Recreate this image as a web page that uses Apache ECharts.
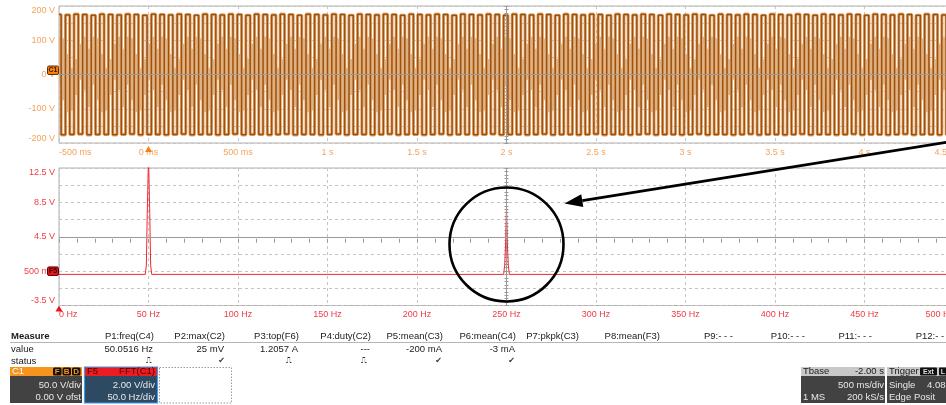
<!DOCTYPE html>
<html><head><meta charset="utf-8">
<script src="https://cdn.jsdelivr.net/npm/echarts@6/dist/echarts.min.js"></script>
<style>html,body{margin:0;padding:0;background:#fff;overflow:hidden}#c{width:946px;height:405px}</style>
</head><body><div id="c"></div>
<script>
// ---------------- data ----------------
// top panel (C1, 50 V/div, 500 ms/div)
const timeRangeS = [-0.5, 4.5];
const voltRangeV = [-200, 200];
const traceStepS = 0.024;                     // spacing of displayed trace strokes
const traceLevelsV = [175, -176, 174, -175, 176, -174, 175, -176, 173, -175, 176, -175];
// lighter (persistence) fill between strokes: upper / lower extent per gap
const tanHiV = [110, 105, 60, 20, 45, 90, 110, 75];
const tanLoV = [-30, -75, -110, -105, -60, -15, -45, -95];
// bottom panel (F5 = FFT(C1), 2 V/div, 50 Hz/div)
const freqRangeHz = [0, 500];
const fftRangeV = [-3.5, 12.5];
const fftFreqHz = [0, 48.2, 48.8, 49.3, 50, 50.7, 51.2, 51.8, 99.4, 100, 100.6, 199.4, 200, 200.6,
  248.4, 249.0, 249.5, 250, 250.5, 251.0, 251.6, 349.4, 350, 350.6, 449.4, 450, 450.6, 500];
const fftVolts = [0.12, 0.12, 1.2, 7.2, 14, 7.2, 1.2, 0.12, 0.12, 0.3, 0.12, 0.12, 0.3, 0.12,
  0.12, 1.2, 3.7, 8.0, 3.7, 1.2, 0.12, 0.12, 0.25, 0.12, 0.12, 0.25, 0.12, 0.12];
// measurement table
const measHeaders = ['P1:freq(C4)','P2:max(C2)','P3:top(F6)','P4:duty(C2)','P5:mean(C3)','P6:mean(C4)','P7:pkpk(C3)','P8:mean(F3)','P9:- - -','P10:- - -','P11:- - -','P12:- - -'];
const measValues = ['50.0516 Hz','25 mV','1.2057 A','---','-200 mA','-3 mA','','','','','',''];
const measStatus = ['pulse','ok','pulse','pulse','ok','ok','','','','','',''];

// ---------------- build ----------------
const FONT = '"Liberation Sans", Arial, sans-serif';
const dark = [], tanHi = [], tanLo = [];
for (let i = 0; ; i++) {
  const t = timeRangeS[0] + i * traceStepS;
  if (t > timeRangeS[1] + 1e-9) break;
  dark.push([t, traceLevelsV[i % traceLevelsV.length]]);
  tanHi.push([t, tanHiV[i % tanHiV.length]]);
  tanLo.push([t, tanLoV[i % tanLoV.length]]);
}
const fftData = fftFreqHz.map((f, i) => [f, fftVolts[i]]);

const chart = echarts.init(document.getElementById('c'), null, {renderer: 'canvas'});
const gridL = 59, gridW = 895;
const splitCol = '#c4c4c4', frameCol = '#b0b0b0', centerCol = '#9a9a9a';
const topCol = '#f4a35c', botCol = '#f03c46';

function fmtTime(v) {
  if (Math.abs(v) < 1) return Math.round(v * 1000) + ' ms';
  return (+v.toFixed(2)) + ' s';
}
function fmtFft(v) {
  const k = (v - fftRangeV[0]) / 4;
  if (Math.abs(k - Math.round(k)) > 1e-6) return '';
  if (Math.abs(v - 0.5) < 1e-6) return '500 mV';
  return (+v.toFixed(2)) + ' V';
}

const centerLine = (data) => ({
  silent: true, symbol: 'none', label: {show: false}, animation: false,
  lineStyle: {color: centerCol, type: 'solid', width: 1}, data
});
const tanArea = (data) => ({type: 'line', xAxisIndex: 0, yAxisIndex: 0, data, showSymbol: false, z: 2, step: 'middle',
  lineStyle: {width: 0, opacity: 0}, areaStyle: {color: '#dab690', opacity: 1, origin: 0}});

const option = {
  animation: false,
  backgroundColor: '#fff',
  grid: [
    {left: gridL, top: 6, width: gridW, height: 137, show: true, borderColor: frameCol, borderWidth: 1, backgroundColor: 'transparent', outerBoundsMode: 'none', containLabel: false},
    {left: gridL, top: 168, width: gridW, height: 137.5, show: true, borderColor: frameCol, borderWidth: 1, backgroundColor: 'transparent', outerBoundsMode: 'none', containLabel: false}
  ],
  xAxis: [
    {type: 'value', gridIndex: 0, min: timeRangeS[0], max: timeRangeS[1], interval: 0.5,
      axisLine: {show: false}, axisTick: {show: false},
      axisLabel: {color: topCol, fontSize: 9, fontFamily: FONT, margin: 5, formatter: fmtTime, alignMinLabel: 'left', alignMaxLabel: 'right', hideOverlap: false},
      splitLine: {show: true, lineStyle: {color: splitCol, type: [3, 3], width: 1}}},
    {type: 'value', gridIndex: 1, min: freqRangeHz[0], max: freqRangeHz[1], interval: 50,
      axisLine: {show: false}, axisTick: {show: false},
      axisLabel: {color: botCol, fontSize: 9, fontFamily: FONT, margin: 5, formatter: v => v + ' Hz', alignMinLabel: 'left', alignMaxLabel: 'right', hideOverlap: false},
      splitLine: {show: true, lineStyle: {color: splitCol, type: [3, 3], width: 1}}},
    // minor tick marks on centre horizontal lines
    {type: 'value', gridIndex: 0, min: timeRangeS[0], max: timeRangeS[1], interval: 0.1, position: 'bottom', offset: -70.5,
      axisLine: {show: false}, axisLabel: {show: false}, splitLine: {show: false},
      axisTick: {show: true, length: 4, lineStyle: {color: centerCol}}},
    {type: 'value', gridIndex: 1, min: freqRangeHz[0], max: freqRangeHz[1], interval: 10, position: 'bottom', offset: -70.75,
      axisLine: {show: false}, axisLabel: {show: false}, splitLine: {show: false},
      axisTick: {show: true, length: 4, lineStyle: {color: centerCol}}}
  ],
  yAxis: [
    {type: 'value', gridIndex: 0, min: voltRangeV[0], max: voltRangeV[1], interval: 50,
      axisLine: {show: false}, axisTick: {show: false},
      axisLabel: {color: topCol, fontSize: 9, fontFamily: FONT, margin: 4, verticalAlignMaxLabel: 'top', verticalAlignMinLabel: 'bottom',
        formatter: v => (v % 100 === 0 ? v + ' V' : '')},
      splitLine: {show: true, lineStyle: {color: splitCol, type: [3, 3], width: 1}}},
    {type: 'value', gridIndex: 1, min: fftRangeV[0], max: fftRangeV[1], interval: 2,
      axisLine: {show: false}, axisTick: {show: false},
      axisLabel: {color: botCol, fontSize: 9, fontFamily: FONT, margin: 4, verticalAlignMaxLabel: 'top', verticalAlignMinLabel: 'bottom', formatter: fmtFft},
      splitLine: {show: true, lineStyle: {color: splitCol, type: [3, 3], width: 1}}},
    {type: 'value', gridIndex: 0, min: voltRangeV[0], max: voltRangeV[1], interval: 10, position: 'left', offset: -449.5,
      axisLine: {show: false}, axisLabel: {show: false}, splitLine: {show: false},
      axisTick: {show: true, length: 4, lineStyle: {color: centerCol}}},
    {type: 'value', gridIndex: 1, min: fftRangeV[0], max: fftRangeV[1], interval: 0.4, position: 'left', offset: -449.5,
      axisLine: {show: false}, axisLabel: {show: false}, splitLine: {show: false},
      axisTick: {show: true, length: 4, lineStyle: {color: centerCol}}}
  ],
  series: [
    Object.assign(tanArea(tanHi), {markLine: centerLine([{yAxis: 0}, {xAxis: 2}])}),
    tanArea(tanLo),
    {type: 'line', xAxisIndex: 0, yAxisIndex: 0, data: dark, showSymbol: false, z: 3, step: 'middle',
      lineStyle: {color: '#e6aa6e', width: 3.2}},
    {type: 'line', xAxisIndex: 0, yAxisIndex: 0, data: dark, showSymbol: false, z: 4, step: 'middle',
      lineStyle: {color: '#9a5214', width: 1.5}},
    {type: 'line', xAxisIndex: 1, yAxisIndex: 1, data: fftData, showSymbol: false, z: 3,
      lineStyle: {color: '#f0282d', width: 1}, markLine: centerLine([{yAxis: 4.5}, {xAxis: 250}])}
  ]
};
chart.setOption(option);

// ---------------- overlay graphics (markers, table, annotation) ----------------
const g = [];
const txt = (text, x, y, opt = {}) => g.push({type: 'text', x, y, z: 200, silent: true,
  style: Object.assign({text, fill: '#1a1a1a', font: '9.5px ' + FONT, align: 'left', verticalAlign: 'middle'}, opt)});
const rect = (x, y, w, h, style, r) => g.push({type: 'rect', z: 150, silent: true, shape: {x, y, width: w, height: h, r: r || 0}, style});

// channel markers on the left
const zeroTop = chart.convertToPixel({xAxisIndex: 0, yAxisIndex: 0}, [timeRangeS[0], 0]);
rect(47.5, zeroTop[1] - 8.5, 11, 8.5, {fill: '#f7820f', stroke: '#5a2d00', lineWidth: 1}, 1.5);
txt('C1', 53, zeroTop[1] - 4.2, {font: 'bold 7px ' + FONT, fill: '#3a1a00', align: 'center'});
const zeroBot = chart.convertToPixel({xAxisIndex: 1, yAxisIndex: 1}, [freqRangeHz[0], 0]);
rect(47.5, zeroBot[1] - 8.5, 11, 8.5, {fill: '#e8141c', stroke: '#500000', lineWidth: 1}, 1.5);
txt('F5', 53, zeroBot[1] - 4.2, {font: 'bold 7px ' + FONT, fill: '#300000', align: 'center'});
// trigger / origin arrows
const trigP = chart.convertToPixel({xAxisIndex: 0, yAxisIndex: 0}, [0, voltRangeV[0]]);
g.push({type: 'polygon', z: 150, silent: true, shape: {points: [[trigP[0] - 3.5, trigP[1] + 9], [trigP[0] + 3.5, trigP[1] + 9], [trigP[0], trigP[1] + 3]]}, style: {fill: '#f7820f'}});
const origP = chart.convertToPixel({xAxisIndex: 1, yAxisIndex: 1}, [0, fftRangeV[0]]);
g.push({type: 'polygon', z: 150, silent: true, shape: {points: [[origP[0] - 3.5, origP[1] + 6], [origP[0] + 3.5, origP[1] + 6], [origP[0], origP[1]]]}, style: {fill: '#e8141c'}});

// measurement table
const colRight = [154, 225, 299, 371, 443, 516, 579, 660, 733, 805, 872, 950];
const statusRight = [152, 225, 292, 367, 442, 515];
g.push({type: 'line', z: 150, silent: true, shape: {x1: 10, y1: 342.5, x2: 946, y2: 342.5}, style: {stroke: '#b5b5b5', lineWidth: 1}});
txt('Measure', 11, 336, {font: 'bold 9.5px ' + FONT});
txt('value', 11, 349);
txt('status', 11, 361);
measHeaders.forEach((h, i) => txt(h, colRight[i], 336, {align: 'right'}));
measValues.forEach((v, i) => { if (v) txt(v, colRight[i] - 1, 349, {align: 'right'}); });
measStatus.forEach((s, i) => {
  if (!s) return;
  if (s === 'ok') txt('\u2714', statusRight[i], 361, {align: 'right', font: '8px "DejaVu Sans"', fill: '#333'});
  else txt('\u238D', statusRight[i], 361, {align: 'right', font: '8px "DejaVu Sans"', fill: '#333'});
});

// C1 descriptor
rect(10, 367, 72, 9, {fill: '#f7941d'});
rect(10, 376, 72, 27, {fill: '#424242'});
txt('C1', 12, 371.8, {fill: '#ffffff', font: '9.5px ' + FONT});
['F', 'B', 'D'].forEach((c, i) => {
  rect(53 + i * 9.5, 367.5, 8.5, 8, {fill: '#111'}, 1.5);
  txt(c, 57.25 + i * 9.5, 371.8, {fill: '#f7941d', align: 'center', font: 'bold 8px ' + FONT});
});
txt('50.0 V/div', 81, 385, {fill: '#e8e8e8', align: 'right'});
txt('0.00 V ofst', 81, 397, {fill: '#e8e8e8', align: 'right'});
// F5 descriptor
rect(84.5, 367, 73, 9, {fill: '#ec1c24'});
rect(84.5, 376, 73, 27, {fill: '#2e4a62'});
rect(84.5, 367, 73, 36, {fill: 'none', stroke: '#3c9cf0', lineWidth: 1.2});
txt('F5', 87, 371.8, {fill: '#4a0000'});
txt('FFT(C1)', 155, 371.8, {fill: '#4a0000', align: 'right'});
txt('2.00 V/div', 155, 385, {fill: '#e8e8e8', align: 'right'});
txt('50.0 Hz/div', 155, 397, {fill: '#e8e8e8', align: 'right'});
// empty slot
rect(159.5, 367.5, 72, 35.5, {fill: 'none', stroke: '#9a9a9a', lineWidth: 1, lineDash: [1.5, 1.5]});
// Tbase
rect(801, 367, 84, 9, {fill: '#c8c8c8'});
rect(801, 376, 84, 27, {fill: '#424242'});
txt('Tbase', 803, 371.8);
txt('-2.00 s', 884, 371.8, {align: 'right'});
txt('500 ms/div', 884, 385, {fill: '#e8e8e8', align: 'right'});
txt('1 MS', 803, 397, {fill: '#e8e8e8'});
txt('200 kS/s', 884, 397, {fill: '#e8e8e8', align: 'right'});
// Trigger
rect(887, 367, 70, 9, {fill: '#c8c8c8'});
rect(887, 376, 70, 27, {fill: '#424242'});
txt('Trigger', 889, 371.8);
rect(920, 367.5, 17, 8, {fill: '#111'}, 1);
txt('Ext', 928.5, 371.8, {fill: '#ddd', align: 'center', font: 'bold 7px ' + FONT});
rect(939, 367.5, 10, 8, {fill: '#111'}, 1);
txt('L', 943, 371.8, {fill: '#ddd', align: 'center', font: 'bold 7px ' + FONT});
txt('Single', 889, 385, {fill: '#e8e8e8'});
txt('4.08', 927, 385, {fill: '#e8e8e8'});
txt('Edge', 889, 397, {fill: '#e8e8e8'});
txt('Posit', 914, 397, {fill: '#e8e8e8'});

// annotation: circle around the 250 Hz peak and arrow
const cc = chart.convertToPixel({xAxisIndex: 1, yAxisIndex: 1}, [250, 3.6]);
g.push({type: 'circle', z: 180, silent: true, shape: {cx: cc[0], cy: cc[1], r: 57}, style: {fill: 'none', stroke: '#000', lineWidth: 2.6}});
const tip = [cc[0] + 58, 203.5], tail = [948, 142];
const ang = Math.atan2(tail[1] - tip[1], tail[0] - tip[0]);
const hl = 18, hw = 6.5;
const bx = tip[0] + Math.cos(ang) * hl, by = tip[1] + Math.sin(ang) * hl;
g.push({type: 'line', z: 180, silent: true, shape: {x1: bx, y1: by, x2: tail[0], y2: tail[1]}, style: {stroke: '#000', lineWidth: 2.6}});
g.push({type: 'polygon', z: 180, silent: true, shape: {points: [tip,
  [bx - Math.sin(ang) * hw, by + Math.cos(ang) * hw], [bx + Math.sin(ang) * hw, by - Math.cos(ang) * hw]]}, style: {fill: '#000'}});

chart.setOption({graphic: {elements: g}});
</script></body></html>
